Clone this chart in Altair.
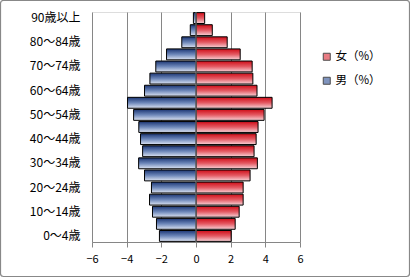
import altair as alt
import pandas as pd

ages = ["0～4歳", "5～9歳", "10～14歳", "15～19歳", "20～24歳", "25～29歳",
        "30～34歳", "35～39歳", "40～44歳", "45～49歳", "50～54歳", "55～59歳",
        "60～64歳", "65～69歳", "70～74歳", "75～79歳", "80～84歳", "85～89歳", "90歳以上"]
male = [2.11, 2.28, 2.51, 2.68, 2.57, 2.97, 3.31, 3.08, 3.20, 3.30,
        3.60, 3.95, 2.97, 2.66, 2.32, 1.70, 0.82, 0.33, 0.15]
female = [2.03, 2.26, 2.49, 2.72, 2.72, 3.12, 3.54, 3.35, 3.47, 3.58,
          3.93, 4.39, 3.52, 3.28, 3.24, 2.55, 1.80, 0.94, 0.50]
shown_labels = ["0～4歳", "10～14歳", "20～24歳", "30～34歳", "40～44歳",
                "50～54歳", "60～64歳", "70～74歳", "80～84歳", "90歳以上"]
series = ["女（%）", "男（%）"]
x_ticks = [-6, -4, -2, 0, 2, 4, 6]

FONT = "Noto Sans CJK JP"
GRID = "#868686"

rows = []
for a, m, f in zip(ages, male, female):
    rows.append({"age": a, "value": -m, "sex": "男（%）"})
    rows.append({"age": a, "value": f, "sex": "女（%）"})
df = pd.DataFrame(rows)

order_top = list(reversed(ages))
yscale = alt.Scale(domain=order_top, paddingInner=0.1, paddingOuter=0.05)
xscale = alt.Scale(domain=[-6, 6], nice=False, zero=False)

blue = alt.Gradient(gradient="linear", x1=0, x2=0, y1=0, y2=1, stops=[
    alt.GradientStop(offset=0, color="#1c3674"),
    alt.GradientStop(offset=0.5, color="#6d87b9"),
    alt.GradientStop(offset=1, color="#dde4f3")])
red = alt.Gradient(gradient="linear", x1=0, x2=0, y1=0, y2=1, stops=[
    alt.GradientStop(offset=0, color="#cf0d18"),
    alt.GradientStop(offset=0.5, color="#e45a63"),
    alt.GradientStop(offset=1, color="#f8d3d8")])

xaxis = alt.Axis(values=x_ticks, tickCount=7, grid=True, gridColor=GRID, gridWidth=1,
                 domainColor=GRID, tickColor=GRID, tickSize=5, labelFont=FONT,
                 labelFontSize=11, labelColor="#000", labelPadding=6, title=None,
                 format="d", labelOverlap=False, labelFlush=False)
yaxis = alt.Axis(values=shown_labels, domain=False, ticks=False, labelFont=FONT,
                 labelFontSize=12, labelColor="#000", labelPadding=12, title=None,
                 labelOverlap=False)

base = alt.Chart(df)

male_bars = base.transform_filter(alt.datum.sex == "男（%）").mark_bar(
    fill=blue, stroke="#000", strokeWidth=1).encode(
    x=alt.X("value:Q", scale=xscale, axis=xaxis),
    x2=alt.datum(0),
    y=alt.Y("age:N", scale=yscale, sort=order_top, axis=yaxis),
)
female_bars = base.transform_filter(alt.datum.sex == "女（%）").mark_bar(
    fill=red, stroke="#000", strokeWidth=1).encode(
    x=alt.X("value:Q", scale=xscale, axis=xaxis),
    x2=alt.datum(0),
    y=alt.Y("age:N", scale=yscale, sort=order_top, axis=yaxis),
)

zero_rule = alt.Chart(pd.DataFrame({"z": [0]})).mark_rule(color=GRID, strokeWidth=1).encode(
    x=alt.X("z:Q", scale=xscale, axis=xaxis))

legend_layer = base.transform_filter("false").mark_square(filled=True).encode(
    color=alt.Color("sex:N", scale=alt.Scale(domain=series, range=["#e04550", "#4a67a3"]),
                    legend=alt.Legend(title=None, orient="none", legendX=229, legendY=39,
                                      symbolType="square", symbolSize=49,
                                      symbolStrokeColor="#000", symbolStrokeWidth=1,
                                      labelFont=FONT, labelFontSize=11.5, labelColor="#000",
                                      rowPadding=11, labelOffset=3))
)

frame = alt.Chart(pd.DataFrame({"z": [0]})).mark_rect(
    fill=None, stroke="#888888", strokeWidth=1.2, cornerRadius=3).encode(
    x=alt.value(-91.5), x2=alt.value(317.5), y=alt.value(-11.5), y2=alt.value(264.5))

chart = alt.layer(female_bars, male_bars, zero_rule, legend_layer, frame).properties(
    width=208, height=230,
    autosize=alt.AutoSizeParams(type="none"),
    padding={"left": 92, "top": 12, "right": 110, "bottom": 36},
).configure_view(stroke=None).configure(background="white")

chart.save("out.html", embed_options={"renderer": "svg", "actions": False})
